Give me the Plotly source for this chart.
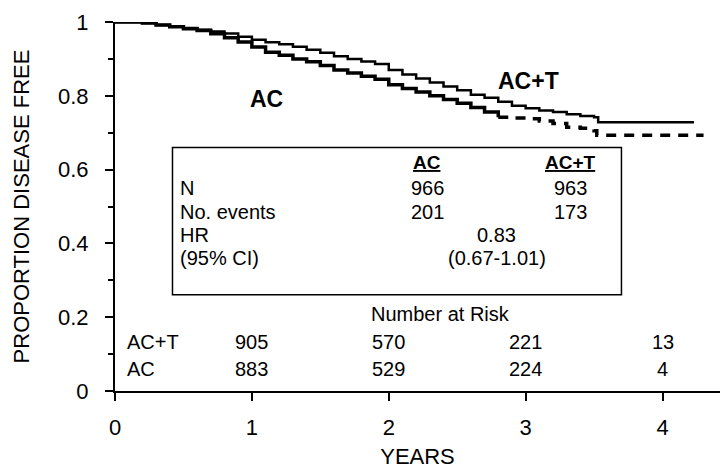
import numpy as np
import plotly.graph_objects as go

# ---- data ----
years_act = [0, 0.1, 0.2, 0.3, 0.4, 0.5, 0.6, 0.7, 0.8, 0.9, 1.0, 1.1, 1.2, 1.3, 1.4,
             1.5, 1.6, 1.7, 1.8, 1.9, 2.0, 2.1, 2.2, 2.3, 2.4, 2.5, 2.6, 2.7, 2.8,
             2.9, 3.0, 3.1, 3.2, 3.3, 3.4, 3.5, 3.53, 4.23]
surv_act = [1.0, 1.0, 0.997, 0.992, 0.988, 0.984, 0.979, 0.974, 0.969, 0.96, 0.952,
            0.945, 0.94, 0.933, 0.925, 0.917, 0.907, 0.9, 0.893, 0.886, 0.87, 0.858,
            0.847, 0.836, 0.825, 0.815, 0.803, 0.795, 0.784, 0.773, 0.766, 0.76,
            0.756, 0.75, 0.745, 0.742, 0.728, 0.728]

years_ac = [0, 0.1, 0.2, 0.3, 0.4, 0.5, 0.6, 0.7, 0.8, 0.9, 1.0, 1.1, 1.2, 1.3, 1.4,
            1.5, 1.6, 1.7, 1.8, 1.9, 2.0, 2.1, 2.2, 2.3, 2.4, 2.5, 2.6, 2.7, 2.8,
            2.9, 3.0, 3.1, 3.2, 3.3, 3.4, 3.5, 3.52, 4.3]
surv_ac = [1.0, 1.0, 0.997, 0.992, 0.987, 0.982, 0.977, 0.968, 0.957, 0.946, 0.932,
           0.918, 0.91, 0.9, 0.892, 0.882, 0.87, 0.862, 0.853, 0.845, 0.83, 0.82,
           0.81, 0.8, 0.79, 0.78, 0.768, 0.756, 0.742, 0.74, 0.738, 0.732, 0.725,
           0.715, 0.712, 0.705, 0.693, 0.693]
ac_dash_from = 2.8

box_cols = ["AC", "AC+T"]
box_n = ["966", "963"]
box_events = ["201", "173"]
box_hr = "0.83"
box_ci = "(0.67-1.01)"

risk_years = [1, 2, 3, 4]
risk_act = ["905", "570", "221", "13"]
risk_ac = ["883", "529", "224", "4"]

yticks = [0, 0.2, 0.4, 0.6, 0.8, 1]
ytick_text = ["0", "0.2", "0.4", "0.6", "0.8", "1"]
xticks = [0, 1, 2, 3, 4]

FONT = "Liberation Sans, Arial, sans-serif"
BLK = "black"

fig = go.Figure()
fig.add_trace(go.Scatter(x=years_act, y=surv_act, mode="lines", line_shape="hv",
                         line=dict(color=BLK, width=2.5), showlegend=False))
ya = np.array(years_ac); sa = np.array(surv_ac)
m1 = ya <= ac_dash_from
m2 = ya >= ac_dash_from
fig.add_trace(go.Scatter(x=ya[m1], y=sa[m1], mode="lines", line_shape="hv",
                         line=dict(color=BLK, width=3.5), showlegend=False))
fig.add_trace(go.Scatter(x=ya[m2], y=sa[m2], mode="lines", line_shape="hv",
                         line=dict(color=BLK, width=3.5, dash="10px,8px"),
                         showlegend=False))

ann = []
def txt(x, y, t, size=20, family=FONT, xanchor="center"):
    ann.append(dict(x=x, y=y, text=t, showarrow=False, xanchor=xanchor,
                    font=dict(size=size, family=family, color=BLK)))

txt(1.11, 0.79, "<b>AC</b>", size=23)
txt(3.02, 0.84, "<b>AC+T</b>", size=23)

# box
fig.add_shape(type="rect", x0=0.42, x1=3.70, y0=0.261, y1=0.660,
              line=dict(color=BLK, width=1.5), fillcolor="white", layer="below")
col_x = [2.28, 3.33]
txt(col_x[0], 0.62, "<u><b>" + box_cols[0] + "</b></u>", size=19)
txt(col_x[1], 0.62, "<u><b>" + box_cols[1] + "</b></u>", size=19)
rows_y = [0.549, 0.486, 0.424, 0.361]
labels = ["N", "No. events", "HR", "(95% CI)"]
for lab, yy in zip(labels, rows_y):
    txt(0.46, yy, lab, xanchor="left")
for i in range(2):
    txt(col_x[i], rows_y[0], box_n[i])
    txt(col_x[i], rows_y[1], box_events[i])
txt(2.79, rows_y[2], box_hr)
txt(2.79, rows_y[3], box_ci)

# number at risk
txt(2.38, 0.209, "Number at Risk")
txt(0.07, 0.133, "AC+T", xanchor="left")
txt(0.07, 0.060, "AC", xanchor="left")
for xx, a, b in zip(risk_years, risk_act, risk_ac):
    txt(xx, 0.133, a)
    txt(xx, 0.060, b)

fig.update_layout(
    width=722, height=471,
    margin=dict(l=115, r=2, t=22, b=80),
    plot_bgcolor="white", paper_bgcolor="white",
    annotations=ann,
    xaxis=dict(range=[0, 4.42], tickvals=xticks, showline=True, linecolor=BLK,
               linewidth=2, ticks="outside", ticklen=8, tickwidth=2, tickcolor=BLK,
               showgrid=False, zeroline=False, automargin=False,
               tickfont=dict(size=22, family=FONT, color=BLK),
               ticklabelstandoff=8,
               title=dict(text="YEARS", font=dict(size=22, family=FONT, color=BLK),
                          standoff=9)),
    yaxis=dict(range=[0, 1], tickvals=yticks, ticktext=ytick_text, showline=True,
               linecolor=BLK, linewidth=2, ticks="outside", ticklen=8, tickwidth=2,
               tickcolor=BLK, showgrid=False, zeroline=False, automargin=False,
               tickfont=dict(size=22, family=FONT, color=BLK),
               ticklabelstandoff=12,
               minor=dict(tickvals=[0.1, 0.3, 0.5, 0.7, 0.9], ticks="outside", ticklen=5,
                          tickwidth=1.5, tickcolor=BLK),
               title=dict(text="PROPORTION DISEASE FREE",
                          font=dict(size=22, family=FONT, color=BLK), standoff=22)),
)
for tr in fig.data:
    tr.cliponaxis = False

fig.write_html("out.html", config={"displayModeBar": False},
               post_script="document.body.style.margin='0px';document.body.style.overflow='hidden';")
